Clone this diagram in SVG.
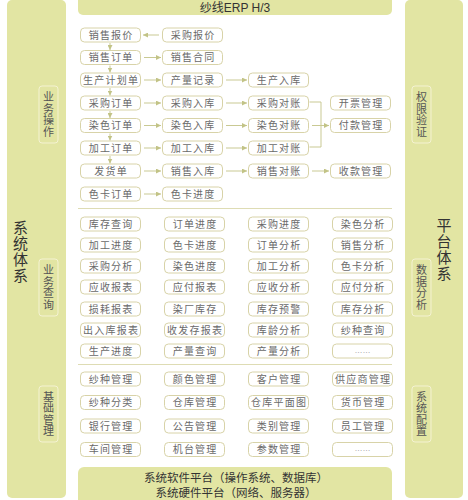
<svg xmlns="http://www.w3.org/2000/svg" width="468" height="500" viewBox="0 0 468 500">
<defs>
<style>
.side{fill:#e2e5a3}
.tag{fill:#e2e5a3;stroke:#f4f2d2;stroke-width:1}
.b{fill:#ffffff;stroke:#d8d3a8;stroke-width:1}
.t{font-family:"Noto Sans CJK SC","Liberation Sans",sans-serif;font-size:10px;fill:#6a6a6a;text-anchor:middle;letter-spacing:1.2px}
.dots{font-family:"Liberation Sans",sans-serif;font-size:8px;fill:#8a8a8a;text-anchor:middle}
.tg{font-family:"Noto Sans CJK SC","Liberation Sans",sans-serif;font-size:11px;fill:#555555;text-anchor:middle;writing-mode:vertical-rl;letter-spacing:0.5px}
.big{font-family:"Noto Sans CJK SC","Liberation Sans",sans-serif;font-size:15px;fill:#333333;text-anchor:middle;writing-mode:vertical-rl;letter-spacing:1px}
.plat{font-family:"Noto Sans CJK SC","Liberation Sans",sans-serif;font-size:11.5px;fill:#333333;text-anchor:middle}
.ttl{font-family:"Liberation Sans","Noto Sans CJK SC",sans-serif;font-size:12px;fill:#333333;text-anchor:middle}
.sep{stroke:#dedcb4;stroke-width:1;fill:none}
.c{stroke:#c9c993;stroke-width:1;fill:none}
</style>
<marker id="ah" markerUnits="userSpaceOnUse" markerWidth="5" markerHeight="5" refX="5" refY="2.5" orient="auto">
<path d="M0,0 L5,2.5 L0,5 z" fill="#c2c386"/>
</marker>
</defs>
<rect x="0" y="0" width="468" height="500" fill="#ffffff"/>

<g id="sidebar-left">
<rect class="side" x="7" y="0" width="59" height="498" rx="5"/>
<text class="big" x="20.5" y="251.5">系统体系</text>
</g>
<g id="sidebar-right">
<rect class="side" x="405" y="0" width="58" height="498" rx="5"/>
<text class="big" x="444" y="249.5">平台体系</text>
</g>

<g id="tag-yewucaozuo">
<rect class="tag" x="39" y="86" width="19" height="57" rx="3"/>
<text class="tg" x="48.5" y="114.8">业务操作</text>
</g>
<g id="tag-yewuchaxun">
<rect class="tag" x="39" y="259" width="19" height="57" rx="3"/>
<text class="tg" x="48.5" y="287.8">业务查询</text>
</g>
<g id="tag-jichuguanli">
<rect class="tag" x="39" y="386" width="19" height="56" rx="3"/>
<text class="tg" x="48.5" y="414.3">基础管理</text>
</g>
<g id="tag-quanxianyanzheng">
<rect class="tag" x="412" y="86" width="19" height="57" rx="3"/>
<text class="tg" x="421.5" y="114.8">权限验证</text>
</g>
<g id="tag-shujufenxi">
<rect class="tag" x="412" y="259" width="19" height="57" rx="3"/>
<text class="tg" x="421.5" y="287.8">数据分析</text>
</g>
<g id="tag-xitongpeizhi">
<rect class="tag" x="412" y="386" width="19" height="56" rx="3"/>
<text class="tg" x="421.5" y="414.3">系统配置</text>
</g>

<g id="title">
<rect x="150" y="0" width="143" height="1.6" fill="#a3aaa8"/>
<rect class="side" x="78" y="-6" width="314" height="21" rx="5"/>
<text class="ttl" x="235" y="12">纱线ERP  H/3</text>
</g>

<g id="platform">
<rect class="side" x="78" y="467" width="314" height="40" rx="6"/>
<text class="plat" x="236" y="482">系统软件平台（操作系统、数据库）</text>
<text class="plat" x="236" y="497">系统硬件平台（网络、服务器）</text>
</g>

<g id="separators">
<line class="sep" x1="78" y1="208.5" x2="392" y2="208.5"/>
<line class="sep" x1="78" y1="364.5" x2="392" y2="364.5"/>
</g>

<g id="connectors">
<line class="c" x1="159" y1="35" x2="143" y2="35" marker-end="url(#ah)"/>
<line class="c" x1="110" y1="43" x2="110" y2="50" marker-end="url(#ah)"/>
<line class="c" x1="110" y1="65.5" x2="110" y2="72.5" marker-end="url(#ah)"/>
<line class="c" x1="110" y1="88" x2="110" y2="95.5" marker-end="url(#ah)"/>
<line class="c" x1="110" y1="111" x2="110" y2="118" marker-end="url(#ah)"/>
<line class="c" x1="110" y1="133.5" x2="110" y2="140.5" marker-end="url(#ah)"/>
<line class="c" x1="110" y1="156" x2="110" y2="163.5" marker-end="url(#ah)"/>
<line class="c" x1="144" y1="57.5" x2="161" y2="57.5" marker-end="url(#ah)"/>
<line class="c" x1="144" y1="80" x2="161" y2="80" marker-end="url(#ah)"/>
<line class="c" x1="144" y1="103" x2="161" y2="103" marker-end="url(#ah)"/>
<line class="c" x1="144" y1="125.5" x2="161" y2="125.5" marker-end="url(#ah)"/>
<line class="c" x1="144" y1="148" x2="161" y2="148" marker-end="url(#ah)"/>
<line class="c" x1="144" y1="171" x2="161" y2="171" marker-end="url(#ah)"/>
<line class="c" x1="144" y1="194" x2="161" y2="194" marker-end="url(#ah)"/>
<line class="c" x1="226" y1="80" x2="247" y2="80" marker-end="url(#ah)"/>
<line class="c" x1="226" y1="103" x2="247" y2="103" marker-end="url(#ah)"/>
<line class="c" x1="226" y1="125.5" x2="247" y2="125.5" marker-end="url(#ah)"/>
<line class="c" x1="226" y1="148" x2="247" y2="148" marker-end="url(#ah)"/>
<line class="c" x1="226" y1="171" x2="247" y2="171" marker-end="url(#ah)"/>
<path class="c" d="M309.5 102 H321 V147 H309.5"/>
<line class="c" x1="312" y1="125.5" x2="329" y2="125.5" marker-end="url(#ah)"/>
<line class="c" x1="312" y1="171" x2="329" y2="171" marker-end="url(#ah)"/>
</g>

<g id="n-xiaoshoubaojia"><rect class="b" x="80.5" y="28" width="60" height="14" rx="4"/><text class="t" x="111.1" y="38.5">销售报价</text></g>
<g id="n-caigoubaojia"><rect class="b" x="162.5" y="28" width="60" height="14" rx="4"/><text class="t" x="193.1" y="38.5">采购报价</text></g>
<g id="n-xiaoshoudingdan"><rect class="b" x="80.5" y="50.5" width="60" height="14" rx="4"/><text class="t" x="111.1" y="61">销售订单</text></g>
<g id="n-xiaoshouhetong"><rect class="b" x="162.5" y="50.5" width="60" height="14" rx="4"/><text class="t" x="193.1" y="61">销售合同</text></g>
<g id="n-shengchanjihuadan"><rect class="b" x="80.5" y="73" width="60" height="14" rx="4"/><text class="t" x="111.1" y="83.5">生产计划单</text></g>
<g id="n-chanliangjilu"><rect class="b" x="162.5" y="73" width="60" height="14" rx="4"/><text class="t" x="193.1" y="83.5">产量记录</text></g>
<g id="n-shengchanruku"><rect class="b" x="248.5" y="73" width="60" height="14" rx="4"/><text class="t" x="279.1" y="83.5">生产入库</text></g>
<g id="n-caigoudingdan"><rect class="b" x="80.5" y="96" width="60" height="14" rx="4"/><text class="t" x="111.1" y="106.5">采购订单</text></g>
<g id="n-caigouruku"><rect class="b" x="162.5" y="96" width="60" height="14" rx="4"/><text class="t" x="193.1" y="106.5">采购入库</text></g>
<g id="n-caigouduizhang"><rect class="b" x="248.5" y="96" width="60" height="14" rx="4"/><text class="t" x="279.1" y="106.5">采购对账</text></g>
<g id="n-kaipiaoguanli"><rect class="b" x="330.5" y="96" width="60" height="14" rx="4"/><text class="t" x="361.1" y="106.5">开票管理</text></g>
<g id="n-ransedingdan"><rect class="b" x="80.5" y="118.5" width="60" height="14" rx="4"/><text class="t" x="111.1" y="129">染色订单</text></g>
<g id="n-ranseruku"><rect class="b" x="162.5" y="118.5" width="60" height="14" rx="4"/><text class="t" x="193.1" y="129">染色入库</text></g>
<g id="n-ranseduizhang"><rect class="b" x="248.5" y="118.5" width="60" height="14" rx="4"/><text class="t" x="279.1" y="129">染色对账</text></g>
<g id="n-fukuanguanli"><rect class="b" x="330.5" y="118.5" width="60" height="14" rx="4"/><text class="t" x="361.1" y="129">付款管理</text></g>
<g id="n-jiagongdingdan"><rect class="b" x="80.5" y="141" width="60" height="14" rx="4"/><text class="t" x="111.1" y="151.5">加工订单</text></g>
<g id="n-jiagongruku"><rect class="b" x="162.5" y="141" width="60" height="14" rx="4"/><text class="t" x="193.1" y="151.5">加工入库</text></g>
<g id="n-jiagongduizhang"><rect class="b" x="248.5" y="141" width="60" height="14" rx="4"/><text class="t" x="279.1" y="151.5">加工对账</text></g>
<g id="n-fahuodan"><rect class="b" x="80.5" y="164" width="60" height="14" rx="4"/><text class="t" x="111.1" y="174.5">发货单</text></g>
<g id="n-xiaoshouruku"><rect class="b" x="162.5" y="164" width="60" height="14" rx="4"/><text class="t" x="193.1" y="174.5">销售入库</text></g>
<g id="n-xiaoshouduizhang"><rect class="b" x="248.5" y="164" width="60" height="14" rx="4"/><text class="t" x="279.1" y="174.5">销售对账</text></g>
<g id="n-shoukuanguanli"><rect class="b" x="330.5" y="164" width="60" height="14" rx="4"/><text class="t" x="361.1" y="174.5">收款管理</text></g>
<g id="n-sekadingdan"><rect class="b" x="80.5" y="187" width="60" height="14" rx="4"/><text class="t" x="111.1" y="197.5">色卡订单</text></g>
<g id="n-sekajindu1"><rect class="b" x="162.5" y="187" width="60" height="14" rx="4"/><text class="t" x="193.1" y="197.5">色卡进度</text></g>

<g id="n-m11"><rect class="b" x="80.5" y="217" width="60" height="14" rx="4"/><text class="t" x="111.1" y="227.5">库存查询</text></g>
<g id="n-m12"><rect class="b" x="164.5" y="217" width="60" height="14" rx="4"/><text class="t" x="195.1" y="227.5">订单进度</text></g>
<g id="n-m13"><rect class="b" x="248.5" y="217" width="60" height="14" rx="4"/><text class="t" x="279.1" y="227.5">采购进度</text></g>
<g id="n-m14"><rect class="b" x="332.5" y="217" width="60" height="14" rx="4"/><text class="t" x="363.1" y="227.5">染色分析</text></g>
<g id="n-m21"><rect class="b" x="80.5" y="238" width="60" height="14" rx="4"/><text class="t" x="111.1" y="248.5">加工进度</text></g>
<g id="n-m22"><rect class="b" x="164.5" y="238" width="60" height="14" rx="4"/><text class="t" x="195.1" y="248.5">色卡进度</text></g>
<g id="n-m23"><rect class="b" x="248.5" y="238" width="60" height="14" rx="4"/><text class="t" x="279.1" y="248.5">订单分析</text></g>
<g id="n-m24"><rect class="b" x="332.5" y="238" width="60" height="14" rx="4"/><text class="t" x="363.1" y="248.5">销售分析</text></g>
<g id="n-m31"><rect class="b" x="80.5" y="259" width="60" height="14" rx="4"/><text class="t" x="111.1" y="269.5">采购分析</text></g>
<g id="n-m32"><rect class="b" x="164.5" y="259" width="60" height="14" rx="4"/><text class="t" x="195.1" y="269.5">染色进度</text></g>
<g id="n-m33"><rect class="b" x="248.5" y="259" width="60" height="14" rx="4"/><text class="t" x="279.1" y="269.5">加工分析</text></g>
<g id="n-m34"><rect class="b" x="332.5" y="259" width="60" height="14" rx="4"/><text class="t" x="363.1" y="269.5">色卡分析</text></g>
<g id="n-m41"><rect class="b" x="80.5" y="280" width="60" height="14" rx="4"/><text class="t" x="111.1" y="290.5">应收报表</text></g>
<g id="n-m42"><rect class="b" x="164.5" y="280" width="60" height="14" rx="4"/><text class="t" x="195.1" y="290.5">应付报表</text></g>
<g id="n-m43"><rect class="b" x="248.5" y="280" width="60" height="14" rx="4"/><text class="t" x="279.1" y="290.5">应收分析</text></g>
<g id="n-m44"><rect class="b" x="332.5" y="280" width="60" height="14" rx="4"/><text class="t" x="363.1" y="290.5">应付分析</text></g>
<g id="n-m51"><rect class="b" x="80.5" y="302" width="60" height="14" rx="4"/><text class="t" x="111.1" y="312.5">损耗报表</text></g>
<g id="n-m52"><rect class="b" x="164.5" y="302" width="60" height="14" rx="4"/><text class="t" x="195.1" y="312.5">染厂库存</text></g>
<g id="n-m53"><rect class="b" x="248.5" y="302" width="60" height="14" rx="4"/><text class="t" x="279.1" y="312.5">库存预警</text></g>
<g id="n-m54"><rect class="b" x="332.5" y="302" width="60" height="14" rx="4"/><text class="t" x="363.1" y="312.5">库存分析</text></g>
<g id="n-m61"><rect class="b" x="80.5" y="323" width="60" height="14" rx="4"/><text class="t" x="111.1" y="333.5">出入库报表</text></g>
<g id="n-m62"><rect class="b" x="164.5" y="323" width="60" height="14" rx="4"/><text class="t" x="195.1" y="333.5">收发存报表</text></g>
<g id="n-m63"><rect class="b" x="248.5" y="323" width="60" height="14" rx="4"/><text class="t" x="279.1" y="333.5">库龄分析</text></g>
<g id="n-m64"><rect class="b" x="332.5" y="323" width="60" height="14" rx="4"/><text class="t" x="363.1" y="333.5">纱种查询</text></g>
<g id="n-m71"><rect class="b" x="80.5" y="344" width="60" height="14" rx="4"/><text class="t" x="111.1" y="354.5">生产进度</text></g>
<g id="n-m72"><rect class="b" x="164.5" y="344" width="60" height="14" rx="4"/><text class="t" x="195.1" y="354.5">产量查询</text></g>
<g id="n-m73"><rect class="b" x="248.5" y="344" width="60" height="14" rx="4"/><text class="t" x="279.1" y="354.5">产量分析</text></g>
<g id="n-m74"><rect class="b" x="332.5" y="344" width="60" height="14" rx="4"/><text class="dots" x="362.5" y="352.5">……</text></g>

<g id="n-b11"><rect class="b" x="80.5" y="372" width="60" height="14" rx="4"/><text class="t" x="111.1" y="382.5">纱种管理</text></g>
<g id="n-b12"><rect class="b" x="164.5" y="372" width="60" height="14" rx="4"/><text class="t" x="195.1" y="382.5">颜色管理</text></g>
<g id="n-b13"><rect class="b" x="248.5" y="372" width="60" height="14" rx="4"/><text class="t" x="279.1" y="382.5">客户管理</text></g>
<g id="n-b14"><rect class="b" x="332.5" y="372" width="60" height="14" rx="4"/><text class="t" x="363.1" y="382.5">供应商管理</text></g>
<g id="n-b21"><rect class="b" x="80.5" y="395.5" width="60" height="14" rx="4"/><text class="t" x="111.1" y="406">纱种分类</text></g>
<g id="n-b22"><rect class="b" x="164.5" y="395.5" width="60" height="14" rx="4"/><text class="t" x="195.1" y="406">仓库管理</text></g>
<g id="n-b23"><rect class="b" x="248.5" y="395.5" width="60" height="14" rx="4"/><text class="t" x="279.1" y="406">仓库平面图</text></g>
<g id="n-b24"><rect class="b" x="332.5" y="395.5" width="60" height="14" rx="4"/><text class="t" x="363.1" y="406">货币管理</text></g>
<g id="n-b31"><rect class="b" x="80.5" y="419" width="60" height="14" rx="4"/><text class="t" x="111.1" y="429.5">银行管理</text></g>
<g id="n-b32"><rect class="b" x="164.5" y="419" width="60" height="14" rx="4"/><text class="t" x="195.1" y="429.5">公告管理</text></g>
<g id="n-b33"><rect class="b" x="248.5" y="419" width="60" height="14" rx="4"/><text class="t" x="279.1" y="429.5">类别管理</text></g>
<g id="n-b34"><rect class="b" x="332.5" y="419" width="60" height="14" rx="4"/><text class="t" x="363.1" y="429.5">员工管理</text></g>
<g id="n-b41"><rect class="b" x="80.5" y="442.5" width="60" height="14" rx="4"/><text class="t" x="111.1" y="453">车间管理</text></g>
<g id="n-b42"><rect class="b" x="164.5" y="442.5" width="60" height="14" rx="4"/><text class="t" x="195.1" y="453">机台管理</text></g>
<g id="n-b43"><rect class="b" x="248.5" y="442.5" width="60" height="14" rx="4"/><text class="t" x="279.1" y="453">参数管理</text></g>
<g id="n-b44"><rect class="b" x="332.5" y="442.5" width="60" height="14" rx="4"/><text class="dots" x="362.5" y="451">……</text></g>
</svg>
